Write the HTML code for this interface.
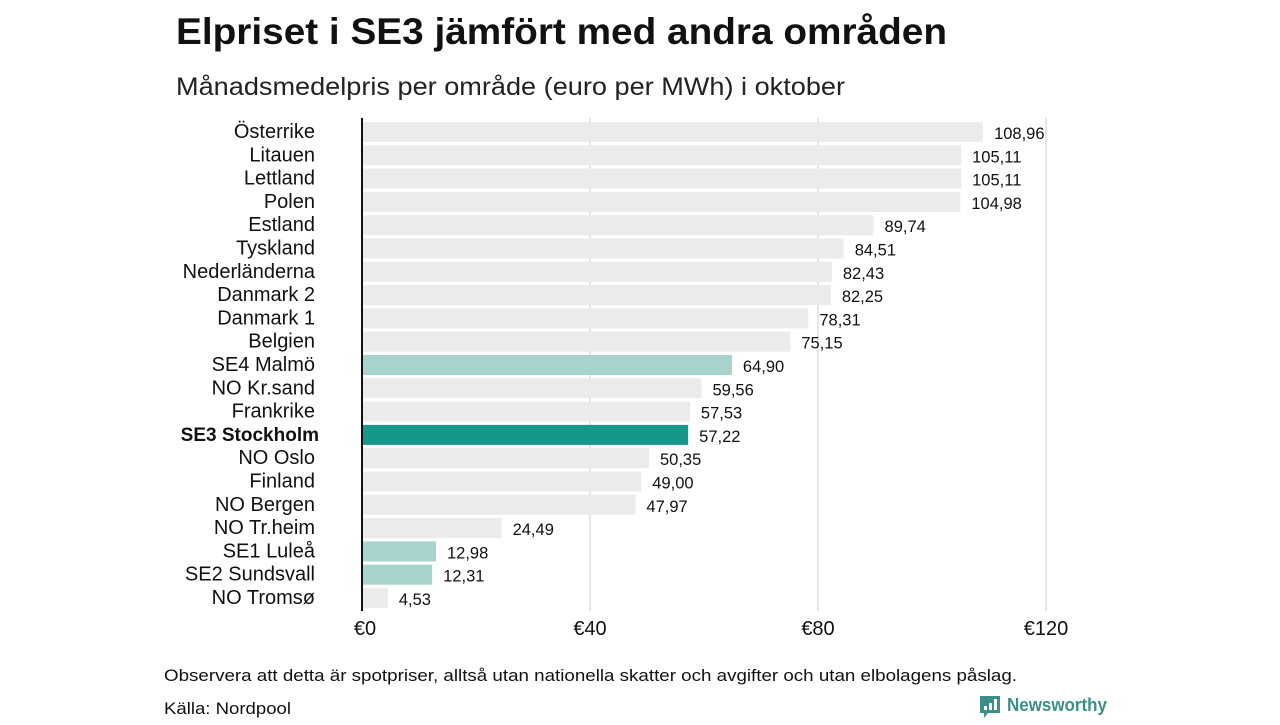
<!DOCTYPE html>
<html><head><meta charset="utf-8"><style>
body{margin:0;background:#fff;width:1280px;height:720px;overflow:hidden;font-family:"Liberation Sans",sans-serif;}
</style></head><body>
<svg width="1280" height="720">
<text x="176" y="44" font-size="37" font-weight="bold" fill="#111" textLength="771" lengthAdjust="spacingAndGlyphs">Elpriset i SE3 jämfört med andra områden</text>
<text x="176" y="95" font-size="25" fill="#222" textLength="669" lengthAdjust="spacingAndGlyphs">Månadsmedelpris per område (euro per MWh) i oktober</text>
<g id="grid"></g>
<g id="bars"></g>
<line x1="362" y1="118" x2="362" y2="611" stroke="#111" stroke-width="2"/>
<text x="164" y="681" font-size="17" fill="#111" textLength="853" lengthAdjust="spacingAndGlyphs">Observera att detta är spotpriser, alltså utan nationella skatter och avgifter och utan elbolagens påslag.</text>
<text x="164" y="714" font-size="17" fill="#111" textLength="127" lengthAdjust="spacingAndGlyphs">Källa: Nordpool</text>
<g>
<path d="M980 696h20v17h-12l-4 5v-5h-4z" fill="#3a8f88"/>
<rect x="984" y="706" width="3" height="4" fill="#fff"/><rect x="989" y="703" width="3" height="7" fill="#fff"/><rect x="994" y="699" width="3" height="11" fill="#fff"/>
<text x="1007" y="711" font-size="18" font-weight="bold" fill="#3a8f88" textLength="100" lengthAdjust="spacingAndGlyphs">Newsworthy</text>
</g>
</svg>
<script>
const categories=["Österrike","Litauen","Lettland","Polen","Estland","Tyskland","Nederländerna","Danmark 2","Danmark 1","Belgien","SE4 Malmö","NO Kr.sand","Frankrike","SE3 Stockholm","NO Oslo","Finland","NO Bergen","NO Tr.heim","SE1 Luleå","SE2 Sundsvall","NO Tromsø"];
const values=[108.96,105.11,105.11,104.98,89.74,84.51,82.43,82.25,78.31,75.15,64.90,59.56,57.53,57.22,50.35,49.00,47.97,24.49,12.98,12.31,4.53];
const highlight=["","","","","","","","","","","light","","","dark","","","","","light","light",""];
const ticks=[0,40,80,120];
const ns="http://www.w3.org/2000/svg";
const x=v=>362+v*5.7;
const y=i=>122+i*23.3;
function mk(t,a,p){const e=document.createElementNS(ns,t);for(const k in a)e.setAttribute(k,a[k]);p.appendChild(e);return e;}
const grid=document.getElementById('grid'),bars=document.getElementById('bars');
ticks.forEach(t=>{
 if(t>0){const l=mk('line',{x1:x(t),x2:x(t),y1:118,y2:611,stroke:'#ccc','stroke-width':1},grid);
 
 }
 const tx=mk('text',{x:x(t)+(t==0?3:0),y:635,'font-size':20,'text-anchor':'middle',fill:'#111'},grid);
 tx.textContent='€'+t;
 
 
});
categories.forEach((c,i)=>{
 const col=highlight[i]=='dark'?'#16978a':highlight[i]=='light'?'#a8d2cc':'#ebebeb';
 const r=mk('rect',{x:363,y:y(i),width:x(values[i])-363,height:20,fill:col},bars);
 
 
 const lb=mk('text',{x:315,y:y(i)+16,'font-size':20,'text-anchor':'end',fill:'#111'},bars);
 if(highlight[i]=='dark'){lb.setAttribute('font-weight','bold');lb.setAttribute('x',319);lb.setAttribute('font-size',19);}
 lb.textContent=c;
 
 
 const vl=mk('text',{x:x(values[i])+11,y:y(i)+17,'font-size':16.5,fill:'#111'},bars);
 vl.textContent=values[i].toFixed(2).replace('.',',');
 
 
});
</script>
</body></html>
